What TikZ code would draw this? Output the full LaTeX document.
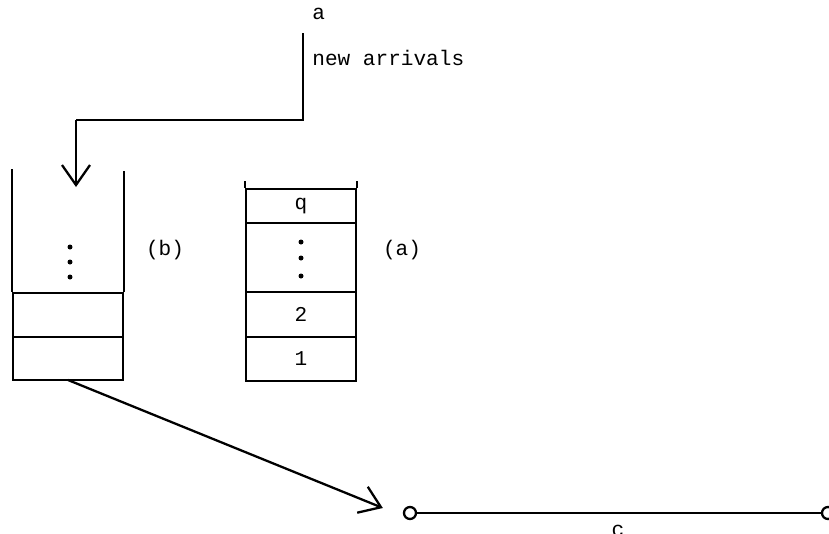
\documentclass[tikz,border=0pt]{standalone}
\usepackage{fontspec}
\setmonofont{Liberation Mono}
\usepackage{tikz}
\usetikzlibrary{arrows.meta,positioning,calc}

\tikzset{
  cell/.style={draw, rectangle, line width=1.3pt, minimum width=2.2cm, inner sep=0pt, font=\ttfamily\large},
  lbl/.style={font=\ttfamily\large, inner sep=0pt},
  wire/.style={line width=1.3pt},
  arr/.style={line width=1.3pt, -{Straight Barb[length=4mm, width=5.6mm, line width=1.3pt]}},
  term/.style={draw, circle, line width=1.3pt, minimum size=0.24cm, inner sep=0pt, fill=white},
  dot/.style={fill, circle, inner sep=0pt, minimum size=0.1cm}
}

\begin{document}
\begin{tikzpicture}[x=0.02cm, y=-0.02cm]
\useasboundingbox (0,0) rectangle (829,534);

% Incoming stream
\node[lbl, anchor=west] (a) at (312, 14) {a};
\node[lbl, anchor=west] (arrivals) at (312, 58) {new arrivals};
\coordinate (src) at (303, 33);
\coordinate (bend) at (303, 120);
\coordinate (turn) at (76, 120);
\coordinate (drop) at (76, 187);
\draw[wire] (src) -- (bend) -- (turn);
\draw[arr] (turn) -- (drop);

% Stack (b), open at the top
\node[cell, minimum height=0.86cm] (b1) at (68, 358.5) {};
\node[cell, minimum height=0.88cm] (b2) at (68, 315) {};
\draw[wire] (b2.north west) -- ++(0, -123);
\draw[wire] (b2.north east) -- ++(0, -121);
\foreach \y in {247, 262, 277}
  \node[dot] at (70, \y) {};
\node[lbl] (blbl) at (165, 250) {(b)};

% Stack (a)
\node[cell, minimum height=0.88cm] (a1) at (301, 359) {1};
\node[cell, minimum height=0.90cm] (a2) at (301, 314.5) {2};
\node[cell, minimum height=1.38cm] (adots) at (301, 257.5) {};
\node[cell, minimum height=0.68cm] (aq) at (301, 206) {q};
\draw[wire] (aq.north west) -- ++(0, -7);
\draw[wire] (aq.north east) -- ++(0, -7);
\foreach \y in {242, 258, 276}
  \node[dot] at (adots.center |- 0, \y) {};
\node[lbl] (albl) at (402, 250) {(a)};

% Service channel
\coordinate (out) at (68, 380);
\node[term] (c0) at (410, 513) {};
\node[term] (c1) at (828, 513) {};
\draw[arr] (out) -- ($(c0.west)+(-20,-5)$);
\draw[wire] (c0) -- (c1);
\node[lbl] (clbl) at (618, 531) {c};
\end{tikzpicture}
\end{document}
